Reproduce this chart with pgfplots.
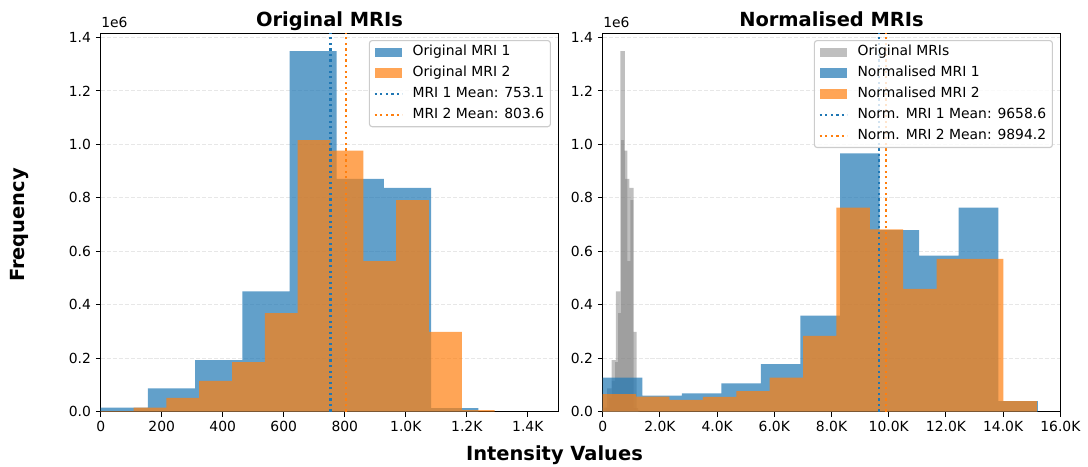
\documentclass[border=0pt]{standalone}
\usepackage{fontspec}
\setmainfont{DejaVu Sans}
\usepackage{pgfplots}
\pgfplotsset{compat=1.18}
\definecolor{mplblue}{HTML}{1F77B4}
\definecolor{mplorange}{HTML}{FF7F0E}
\definecolor{gridc}{HTML}{E7E7E7}
\definecolor{leggray}{HTML}{CCCCCC}

\pgfplotsset{
  histaxis/.style={
    scale only axis, width=329.5pt, height=272.4pt,
    ymin=0, ymax=1.415,
    scaled x ticks=false, scaled y ticks=false,
    ytick={0,0.2,0.4,0.6,0.8,1.0,1.2,1.4},
    yticklabels={0.0,0.2,0.4,0.6,0.8,1.0,1.2,1.4},
    tick align=outside, major tick length=3.5pt,
    xtick pos=bottom, ytick pos=left,
    tick style={black, line width=0.8pt},
    axis line style={black, line width=0.8pt},
    ymajorgrids,
    major grid style={gridc, line width=0.8pt, dash pattern=on 3pt off 1.3pt},
    tick label style={font=\fontsize{10}{12}\selectfont},
    legend cell align=left,
    legend style={at={(1,1)}, anchor=north east, xshift=-5.3pt, yshift=-4.8pt,
      draw=leggray, line width=0.8pt, rounded corners=2pt, fill=white,
      fill opacity=0.8, draw opacity=1, text opacity=1,
      font=\fontsize{10}{12}\selectfont, inner xsep=3pt, inner ysep=2pt,
      row sep=2pt,
      nodes={inner sep=1.5pt, text height=7.5pt, text depth=2.5pt},
      /tikz/every odd column/.append style={column sep=5pt}},
  },
  patch/.style={legend image code/.code={\fill[##1, sharp corners] (0pt,-3.5pt) rectangle (20pt,3.5pt);}},
  meanline/.style={line width=1.6pt, dash pattern=on 1.6pt off 2.4pt,
    legend image code/.code={\draw[##1, sharp corners] (0pt,0pt) -- (20pt,0pt);}},
}

\begin{document}
\begin{tikzpicture}
\path[use as bounding box] (0pt,0pt) rectangle (783.36pt,335.52pt);

% ---------------- Left panel ----------------
\begin{axis}[histaxis, at={(72.5pt,39.1pt)}, anchor=south west,
  xmin=0, xmax=1500,
  xtick={0,200,400,600,800,1000,1200,1400},
  xticklabels={0,200,400,600,800,1.0K,1.2K,1.4K}]
\addplot[patch, ybar interval, fill=mplblue, fill opacity=0.7, draw=none] coordinates {
 (0,0.015) (154.7,0.087) (309.5,0.193) (464.2,0.450) (619.0,1.349)
 (773.7,0.871) (928.4,0.837) (1083.2,0.013) (1237.9,0.013)};
\addlegendentry{Original MRI 1}
\addplot[patch, ybar interval, fill=mplorange, fill opacity=0.7, draw=none] coordinates {
 (0,0.002) (107.6,0.015) (215.2,0.052) (322.8,0.115) (430.4,0.185)
 (538.0,0.369) (645.6,1.016) (753.2,0.976) (860.8,0.563) (968.4,0.791)
 (1076.0,0.299) (1183.6,0.006) (1291.2,0.006)};
\addlegendentry{Original MRI 2}
\addplot[meanline, mplblue] coordinates {(753.1,0) (753.1,1.415)};
\addlegendentry{MRI 1 Mean: 753.1}
\addplot[meanline, mplorange] coordinates {(803.6,0) (803.6,1.415)};
\addlegendentry{MRI 2 Mean: 803.6}
\end{axis}

% ---------------- Right panel ----------------
\begin{axis}[histaxis, at={(433.94pt,39.1pt)}, anchor=south west,
  xmin=0, xmax=16000,
  xtick={0,2000,4000,6000,8000,10000,12000,14000,16000},
  xticklabels={0,2.0K,4.0K,6.0K,8.0K,10.0K,12.0K,14.0K,16.0K}]
\addplot[patch, ybar interval, fill=gray, fill opacity=0.5, draw=none] coordinates {
 (0,0.015) (154.7,0.087) (309.5,0.193) (464.2,0.450) (619.0,1.349)
 (773.7,0.871) (928.4,0.837) (1083.2,0.013) (1237.9,0.013)};
\addlegendentry{Original MRIs}
\addplot[ybar interval, fill=gray, fill opacity=0.5, draw=none, forget plot] coordinates {
 (0,0.002) (107.6,0.015) (215.2,0.052) (322.8,0.115) (430.4,0.185)
 (538.0,0.369) (645.6,1.016) (753.2,0.976) (860.8,0.563) (968.4,0.791)
 (1076.0,0.299) (1183.6,0.006) (1291.2,0.006)};
\addplot[patch, ybar interval, fill=mplblue, fill opacity=0.7, draw=none] coordinates {
 (0,0.127) (1383,0.060) (2766,0.069) (4149,0.106) (5532,0.178) (6915,0.359)
 (8297,0.966) (9680,0.679) (11063,0.584) (12446,0.763) (13829,0.040) (15212,0.040)};
\addlegendentry{Normalised MRI 1}
\addplot[patch, ybar interval, fill=mplorange, fill opacity=0.7, draw=none] coordinates {
 (0,0.066) (1167,0.056) (2335,0.044) (3502,0.055) (4669,0.077) (5836,0.127)
 (7004,0.284) (8171,0.763) (9338,0.682) (10506,0.459) (11673,0.572)
 (12840,0.572) (14008,0.040) (15175,0.040)};
\addlegendentry{Normalised MRI 2}
\addplot[meanline, mplblue] coordinates {(9658.6,0) (9658.6,1.415)};
\addlegendentry{Norm. MRI 1 Mean: 9658.6}
\addplot[meanline, mplorange] coordinates {(9894.2,0) (9894.2,1.415)};
\addlegendentry{Norm. MRI 2 Mean: 9894.2}
\end{axis}

% ---------------- Titles and labels ----------------
\node[anchor=base, font=\fontsize{14}{16}\selectfont\bfseries] at (237.24pt,316.8pt) {Original MRIs};
\node[anchor=base, font=\fontsize{14}{16}\selectfont\bfseries] at (598.68pt,316.8pt) {Normalised MRIs};
\node[anchor=base west, font=\fontsize{10}{12}\selectfont, inner sep=0pt] at (72.7pt,315.7pt) {1e6};
\node[anchor=base west, font=\fontsize{10}{12}\selectfont, inner sep=0pt] at (434.2pt,315.7pt) {1e6};
\node[anchor=base, font=\fontsize{14}{16}\selectfont\bfseries] at (399.2pt,3.8pt) {Intensity Values};
\node[rotate=90, font=\fontsize{14}{16}\selectfont\bfseries] at (13.7pt,173.5pt) {Frequency};
\end{tikzpicture}
\end{document}
